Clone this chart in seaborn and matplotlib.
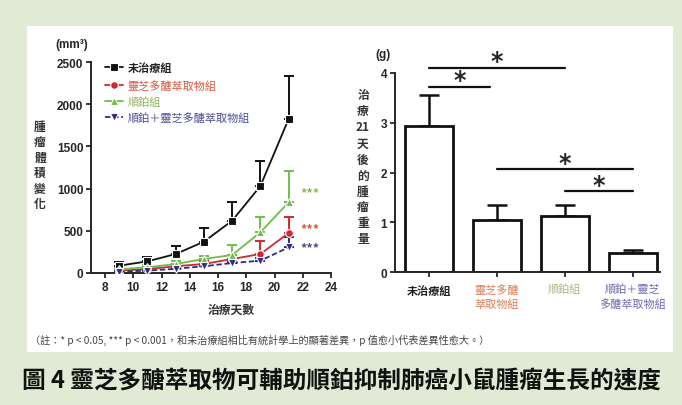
import matplotlib
matplotlib.use("Agg")
import matplotlib.pyplot as plt
import seaborn as sns
import pandas as pd

# ---------------- data ----------------
days = [9, 11, 13, 15, 17, 19, 21]
groups = ["未治療組", "靈芝多醣萃取物組", "順鉑組", "順鉑＋靈芝多醣萃取物組"]
vol_control = [87, 138, 225, 371, 620, 1031, 1826]
err_control = [38, 50, 99, 162, 223, 300, 514]
vol_gano = [28, 47, 80, 107, 166, 225, 474]
err_gano = [12, 18, 25, 30, 45, 158, 186]
vol_cis = [45, 67, 107, 166, 213, 482, 838]
err_cis = [18, 25, 40, 40, 119, 178, 374]
vol_combo = [16, 28, 50, 80, 118, 146, 304]
err_combo = [8, 10, 15, 20, 25, 30, 120]
sig_vol = [None, 521, 956, 304]  # y of *** labels

bar_labels = ["未治療組", "靈芝多醣\n萃取物組", "順鉑組", "順鉑＋靈芝\n多醣萃取物組"]
weight = [2.93, 1.05, 1.12, 0.38]
weight_err = [0.62, 0.30, 0.23, 0.07]
# significance brackets: (start bar, end bar, line y, star y)
brackets = [(0, 0.9, 3.72, 3.85), (0, 2, 4.10, 4.24), (1, 3, 2.07, 2.20), (2, 3, 1.62, 1.75)]

vols = [vol_control, vol_gano, vol_cis, vol_combo]
errs = [err_control, err_gano, err_cis, err_combo]

# ---------------- style ----------------
sns.set_theme(style="ticks")
plt.rcParams['font.family'] = ['Noto Sans CJK TC', 'DejaVu Sans']
plt.rcParams['axes.linewidth'] = 1.4

line_colors = ["#111111", "#d7262b", "#6cbf47", "#2d2a8c"]
text_colors = ["#222222", "#d9573a", "#8fb35c", "#4b4a9a"]
tick_colors = ["#222222", "#e07b4f", "#a9ba85", "#6e69b3"]
markers = ["s", "o", "^", "v"]

fig = plt.figure(figsize=(6.82, 4.06), dpi=100)
fig.patch.set_facecolor("#e0ead4")
# white inner panel
fig.patches.append(matplotlib.patches.Rectangle((27/682, 1-353/406), (673-27)/682, (353-27)/406,
                   transform=fig.transFigure, facecolor="white", edgecolor="none", zorder=-5))

num_font = dict(family="Liberation Sans", weight="bold", size=8.5)

# ---------------- left: tumor volume ----------------
ax1 = fig.add_axes([91/682, 1-274/406, 240/682, (274-63)/406])
ax1.set_facecolor("none")
ax1.set_zorder(2)
df = pd.DataFrame({
    "day": days * 4,
    "vol": sum(vols, []),
    "group": sum([[g] * len(days) for g in groups], []),
})
sns.lineplot(data=df, x="day", y="vol", hue="group", style="group",
             palette=dict(zip(groups, line_colors)),
             markers=dict(zip(groups, markers)),
             dashes={groups[0]: "", groups[1]: "", groups[2]: "", groups[3]: (3, 1.5)},
             markersize=5.5, linewidth=1.3, markeredgewidth=0.8, ax=ax1, legend=True, zorder=3)
for v, e, c in zip(vols, errs, line_colors):
    ax1.errorbar(days, v, yerr=[[0] * len(e), e], fmt="none", ecolor=c,
                 elinewidth=1.4, capsize=3.8, capthick=1.4, zorder=2)
for v, c in zip(sig_vol, text_colors):
    if v is not None:
        ax1.text(21.8, v, "***", color=c, fontsize=9, fontweight="bold", va="center", ha="left")

ax1.set_xlim(7, 24)
ax1.set_ylim(0, 2500)
ax1.set_xticks(range(8, 25, 2))
ax1.set_yticks(range(0, 2501, 500))
for lab in ax1.get_xticklabels() + ax1.get_yticklabels():
    lab.set_fontproperties(matplotlib.font_manager.FontProperties(**num_font))
ax1.tick_params(width=1.3, length=3.5, pad=2)
sns.despine(ax=ax1)
ax1.set_xlabel("")
ax1.set_ylabel("")
leg = ax1.legend(loc="upper left", bbox_to_anchor=(0.04, 1.025), frameon=False,
                 fontsize=8, handlelength=1.6, handletextpad=0.4, labelspacing=0.5,
                 borderaxespad=0)
for t, c in zip(leg.get_texts(), text_colors):
    t.set_color(c)
    t.set_fontweight("bold" if c == text_colors[0] else "normal")

fig.text(72/682, 1-45/406, "(mm³)", fontsize=8.5, fontweight="bold",
         family="Liberation Sans", ha="center", va="center")
fig.text(40/682, 1-166/406, "\n".join("腫瘤體積變化"), fontsize=8.5, fontweight="bold",
         ha="center", va="center", linespacing=1.25, color="#333333")
fig.text(231/682, 1-310/406, "治療天數", fontsize=8.5, fontweight="bold",
         ha="center", va="center", color="#333333")

# ---------------- right: tumor weight ----------------
ax2 = fig.add_axes([395/682, 1-273/406, 265/682, (273-74)/406])
ax2.set_facecolor("none")
ax2.set_zorder(2)
bdf = pd.DataFrame({"grp": bar_labels, "w": weight})
sns.barplot(data=bdf, x="grp", y="w", color="white", edgecolor="#111111",
            linewidth=2.0, width=0.7, ax=ax2, zorder=2)
ax2.errorbar(range(len(weight)), weight, yerr=[[0] * len(weight), weight_err], fmt="none",
             ecolor="#111111", elinewidth=1.8, capsize=7.5, capthick=1.8, zorder=1)
for x0, x1, y, ys in brackets:
    ax2.plot([x0, x1], [y, y], color="#111111", lw=1.6, clip_on=False)
    ax2.text((x0 + x1) / 2, ys, "*", fontsize=17, fontweight="bold", family="DejaVu Sans",
             ha="center", va="center", clip_on=False)
ax2.set_xlim(-0.5, 3.4)
ax2.set_ylim(0, 4)
ax2.set_yticks(range(0, 5))
for lab in ax2.get_yticklabels():
    lab.set_fontproperties(matplotlib.font_manager.FontProperties(**num_font))
for lab, c in zip(ax2.get_xticklabels(), tick_colors):
    lab.set_color(c)
    lab.set_fontsize(8)
    lab.set_fontweight("bold" if c == tick_colors[0] else "normal")
    lab.set_linespacing(1.4)
ax2.tick_params(width=1.3, length=3.5, pad=2)
ax2.tick_params(axis="x", pad=5)
sns.despine(ax=ax2)
ax2.set_xlabel("")
ax2.set_ylabel("")

fig.text(383/682, 1-55/406, "(g)", fontsize=8.5, fontweight="bold",
         family="Liberation Sans", ha="center", va="center")
fig.text(363/682, 1-168/406, "治\n療\n21\n天\n後\n的\n腫\n瘤\n重\n量", fontsize=8.5,
         fontweight="bold", ha="center", va="center", linespacing=1.3, color="#333333")

# ---------------- notes & title ----------------
fig.text(30/682, 1-340/406,
         "（註：* p < 0.05, *** p < 0.001，和未治療組相比有統計學上的顯著差異，p 值愈小代表差異性愈大。）",
         fontsize=7.3, color="#444444", ha="left", va="center")
fig.text(22/682, 1-381/406, "圖 4 靈芝多醣萃取物可輔助順鉑抑制肺癌小鼠腫瘤生長的速度",
         fontsize=17, fontweight="bold", color="#111111", ha="left", va="center")

fig.savefig("out.png", dpi=100, facecolor=fig.get_facecolor())
